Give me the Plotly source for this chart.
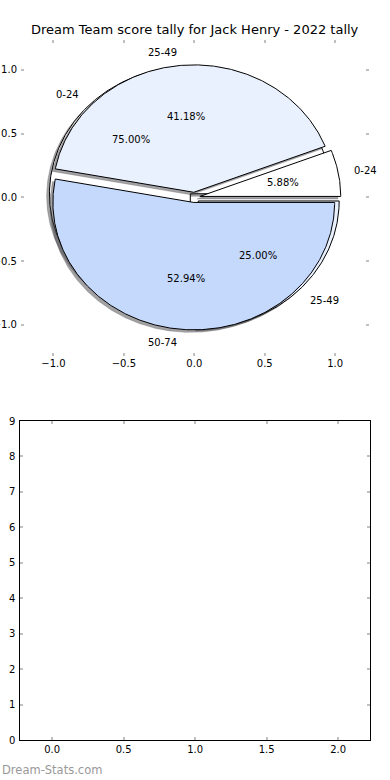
import numpy as np
import plotly.graph_objects as go

title_text = "Dream Team score tally for Jack Henry - 2022 tally"
watermark = "Dream-Stats.com"

pie1_labels = ["0-24", "25-49", "50-74"]
pie1_values = [1, 7, 9]
pie2_labels = ["0-24", "25-49"]
pie2_values = [3, 1]

slice_colors = {"0-24": "#ffffff", "25-49": "#e9f0fe", "50-74": "#c5d9fd"}

top_xticks = [-1.0, -0.5, 0.0, 0.5, 1.0]
top_yticks = [-1.0, -0.5, 0.0, 0.5, 1.0]
bot_xticks = [0.0, 0.5, 1.0, 1.5, 2.0]
bot_yticks = list(range(10))

EXPLODE = 0.04
SHADOW = (-0.02, -0.02)
FONT = "DejaVu Sans"
W, H = 390, 780

fig = go.Figure()
annotations = []


def wedge(t1, t2, cx, cy, r=1.0):
    th = np.radians(np.linspace(t1, t2, max(8, int(abs(t2 - t1) * 2))))
    xs = np.concatenate([[cx], cx + r * np.cos(th), [cx]])
    ys = np.concatenate([[cy], cy + r * np.sin(th), [cy]])
    return xs, ys


def draw_pie(labels, values):
    total = float(sum(values))
    start = 0.0
    geo = []
    for lab, v in zip(labels, values):
        frac = v / total
        t1, t2 = start, start + 360 * frac
        mid = np.radians((t1 + t2) / 2)
        cx, cy = EXPLODE * np.cos(mid), EXPLODE * np.sin(mid)
        geo.append((lab, frac, t1, t2, mid, cx, cy))
        start = t2
    for lab, frac, t1, t2, mid, cx, cy in geo:
        xs, ys = wedge(t1, t2, cx + SHADOW[0], cy + SHADOW[1])
        fig.add_trace(go.Scatter(x=xs, y=ys, mode="lines", fill="toself",
                                 fillcolor="rgba(70,70,75,0.5)",
                                 line=dict(color="rgba(70,70,75,0.5)", width=0.5),
                                 hoverinfo="skip", showlegend=False,
                                 xaxis="x", yaxis="y"))
    for lab, frac, t1, t2, mid, cx, cy in geo:
        xs, ys = wedge(t1, t2, cx, cy)
        fig.add_trace(go.Scatter(x=xs, y=ys, mode="lines", fill="toself",
                                 fillcolor=slice_colors[lab],
                                 line=dict(color="black", width=1),
                                 name=lab, showlegend=False,
                                 xaxis="x", yaxis="y"))
    for lab, frac, t1, t2, mid, cx, cy in geo:
        lx = cx + 1.1 * np.cos(mid)
        ly = cy + 1.1 * np.sin(mid)
        annotations.append(dict(x=lx, y=ly, xref="x", yref="y", text=lab,
                                showarrow=False,
                                xanchor="left" if lx > 0 else "right",
                                yanchor="middle",
                                font=dict(family=FONT, size=10, color="black")))
        px = cx + 0.6 * np.cos(mid)
        py = cy + 0.6 * np.sin(mid)
        annotations.append(dict(x=px, y=py, xref="x", yref="y",
                                text="%.2f%%" % (frac * 100), showarrow=False,
                                xanchor="center", yanchor="middle",
                                font=dict(family=FONT, size=10, color="black")))


draw_pie(pie2_labels, pie2_values)
draw_pie(pie1_labels, pie1_values)

fig.add_trace(go.Scatter(x=[None], y=[None], xaxis="x2", yaxis="y2",
                         showlegend=False, hoverinfo="skip"))

annotations.append(dict(x=0.5, y=1 - 30 / H, xref="paper", yref="paper",
                        text=title_text, showarrow=False, xanchor="center",
                        yanchor="middle",
                        font=dict(family=FONT, size=13, color="black")))
annotations.append(dict(x=0, y=1 - 770 / H, xref="paper", yref="paper",
                        text=watermark, showarrow=False, xanchor="left",
                        yanchor="middle",
                        font=dict(family=FONT, size=11.5, color="#999999")))

tickcol = "#c0c0c0"
common_tick = dict(ticks="inside", ticklen=3, tickwidth=1.5, tickcolor=tickcol,
                   showgrid=False, zeroline=False, automargin=False,
                   tickfont=dict(family=FONT, size=10, color="black"))

fig.update_layout(
    width=W, height=H,
    margin=dict(l=0, r=0, t=0, b=0, autoexpand=False),
    paper_bgcolor="white", plot_bgcolor="white",
    showlegend=False,
    annotations=annotations,
    xaxis=dict(domain=[21 / W, 369 / W], range=[-1.23, 1.24],
               tickvals=top_xticks, ticktext=["\u22121.0", "\u22120.5", "0.0", "0.5", "1.0"],
               showline=False, mirror="ticks", anchor="y", **common_tick),
    yaxis=dict(domain=[1 - 356 / H, 1 - 40 / H], range=[-1.245, 1.235],
               tickvals=top_yticks, ticktext=["\u22121.0", "\u22120.5", "0.0", "0.5", "1.0"],
               showline=False, mirror="ticks", anchor="x", ticklabelstandoff=3,
               **common_tick),
    xaxis2=dict(domain=[19.5 / W, 370 / W], range=[-0.228, 2.223],
                tickvals=bot_xticks, ticktext=["0.0", "0.5", "1.0", "1.5", "2.0"],
                showline=True, linecolor="black", linewidth=1.2, mirror="ticks",
                anchor="y2", **common_tick),
    yaxis2=dict(domain=[1 - 740 / H, 1 - 421 / H], range=[0, 9],
                tickvals=bot_yticks, ticktext=[str(v) for v in bot_yticks],
                showline=True, linecolor="black", linewidth=1.2, mirror="ticks",
                anchor="x2", ticklabelstandoff=1, **common_tick),
)

fig.write_html("out.html",
               config={"displayModeBar": False},
               post_script="document.body.style.margin='0';document.body.style.overflow='hidden';")
